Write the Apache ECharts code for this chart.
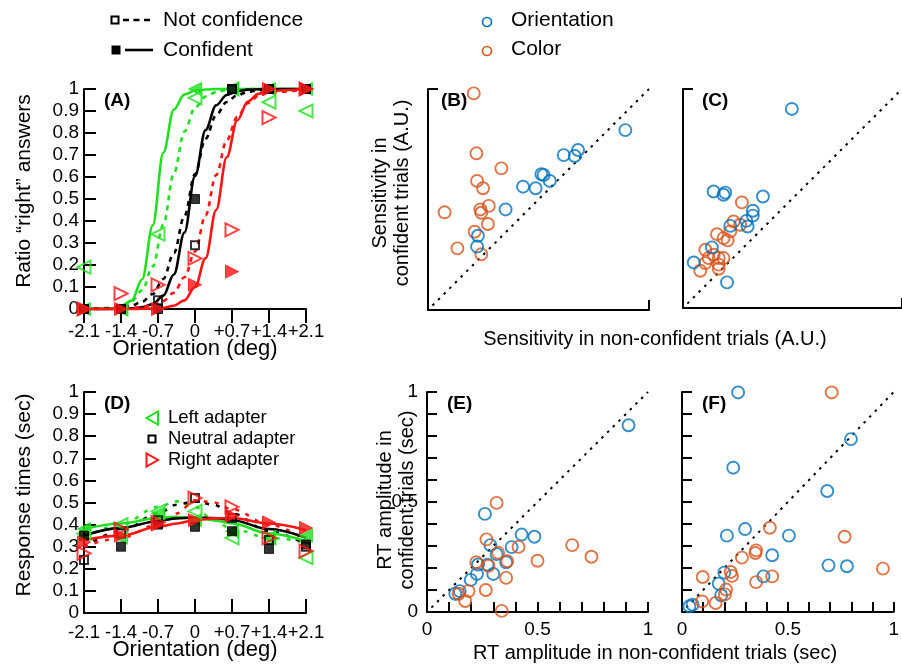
<!DOCTYPE html>
<html><head><meta charset="utf-8">
<script src="https://cdn.jsdelivr.net/npm/echarts@6/dist/echarts.min.js"></script>
<style>html,body{margin:0;padding:0;background:#fff}#c{width:902px;height:666px}</style>
</head><body><div id="c"></div>
<script>
const FONT = '"Liberation Sans", Arial, Helvetica, sans-serif';
const GREEN = '#1fe01f', RED = '#ff1414', BLACK = '#000000', BLUE = '#0072BD', ORANGE = '#D95319';

// ---------- Panel A / D orientation axis ----------
const orientations = [-2.1, -1.4, -0.7, 0, 0.7, 1.4, 2.1];
const orientationLabels = ['-2.1', '-1.4', '-0.7', '0', '+0.7', '+1.4', '+2.1'];

// ---------- Panel A markers (ratio "right") ----------
const aLeftNotConf    = [0.19, 0.0, 0.34, 0.96, 1.0, 0.94, 0.90];
const aLeftConf       = [0, 0, null, 1.0, 1.0, 1.0, 1.0];
const aNeutralNotConf = [0, 0, 0.04, 0.29, 1.0, 1.0, 1.0];
const aNeutralConf    = [0, 0, 0, 0.5, 1.0, 1.0, 1.0];
const aRightNotConf   = [0, 0.07, 0.11, 0.23, 0.36, 0.87, 1.0];
const aRightConf      = [0, 0, 0, 0.11, 0.17, 1.0, 1.0];

// ---------- Panel A fitted curves ----------
const aCurveX              = [-2.1, -1.6, -1.4, -1.2, -1.0, -0.8, -0.6, -0.4, -0.2, 0, 0.2, 0.4, 0.6, 0.8, 1.0, 1.2, 1.4, 2.1];
const aLeftConfCurve       = [0, 0.002, 0.01, 0.038, 0.135, 0.38, 0.71, 0.907, 0.975, 0.993, 0.998, 1, 1, 1, 1, 1, 1, 1];
const aLeftNotConfCurve    = [0, 0.005, 0.014, 0.035, 0.085, 0.193, 0.383, 0.617, 0.807, 0.915, 0.966, 0.986, 0.995, 0.998, 1, 1, 1, 1];
const aNeutralConfCurve    = [0, 0, 0.001, 0.003, 0.008, 0.022, 0.061, 0.157, 0.347, 0.604, 0.813, 0.926, 0.973, 0.99, 0.997, 0.999, 1, 1];
const aNeutralNotConfCurve = [0, 0.003, 0.007, 0.016, 0.033, 0.068, 0.136, 0.254, 0.423, 0.613, 0.774, 0.881, 0.941, 0.972, 0.987, 0.994, 0.997, 1];
const aRightConfCurve      = [0, 0, 0, 0, 0.001, 0.002, 0.005, 0.015, 0.039, 0.1, 0.231, 0.45, 0.69, 0.858, 0.943, 0.978, 0.992, 1];
const aRightNotConfCurve   = [0, 0.001, 0.002, 0.004, 0.009, 0.018, 0.037, 0.074, 0.144, 0.261, 0.426, 0.609, 0.766, 0.873, 0.935, 0.968, 0.984, 0.999];

// ---------- Panel D markers (response times, sec) ----------
const dLeftConf       = [0.38, 0.34, 0.45, 0.42, 0.37, 0.34, 0.35];
const dLeftNotConf    = [0.36, 0.40, 0.46, 0.46, 0.34, 0.34, 0.25];
const dNeutralConf    = [0.35, 0.30, 0.40, 0.39, 0.37, 0.29, 0.31];
const dNeutralNotConf = [0.24, 0.36, 0.42, 0.52, 0.43, 0.33, 0.30];
const dRightConf      = [0.32, 0.35, 0.40, 0.42, 0.44, 0.41, 0.385];
const dRightNotConf   = [0.27, 0.38, 0.41, 0.52, 0.48, 0.34, 0.28];

// ---------- Panel D fitted curves ----------
const dCurveX              = [-2.1, -1.4, -0.7, -0.35, 0, 0.35, 0.7, 1.4, 2.1];
const dLeftConfCurve       = [0.38, 0.405, 0.43, 0.435, 0.43, 0.42, 0.405, 0.36, 0.325];
const dNeutralConfCurve    = [0.35, 0.385, 0.415, 0.428, 0.432, 0.43, 0.42, 0.38, 0.34];
const dRightConfCurve      = [0.33, 0.35, 0.39, 0.405, 0.42, 0.428, 0.43, 0.405, 0.375];
const dLeftNotConfCurve    = [0.34, 0.40, 0.48, 0.505, 0.48, 0.42, 0.38, 0.34, 0.32];
const dNeutralNotConfCurve = [0.30, 0.37, 0.45, 0.49, 0.505, 0.49, 0.45, 0.37, 0.31];
const dRightNotConfCurve   = [0.30, 0.34, 0.40, 0.45, 0.51, 0.50, 0.47, 0.40, 0.33];

// ---------- Panels B/C: sensitivity [non-confident, confident] ----------
const bOrientation = [[0.893,0.814],[0.679,0.724],[0.664,0.697],[0.614,0.701],[0.513,0.615],[0.523,0.611],[0.551,0.584],[0.487,0.551],[0.430,0.558],[0.351,0.455],[0.226,0.336],[0.222,0.287]];
const bColor = [[0.207,0.980],[0.219,0.709],[0.332,0.641],[0.222,0.584],[0.249,0.551],[0.275,0.471],[0.237,0.455],[0.241,0.440],[0.271,0.389],[0.075,0.442],[0.211,0.354],[0.133,0.279],[0.241,0.252]];
const cOrientation = [[0.497,0.909],[0.140,0.532],[0.185,0.517],[0.193,0.527],[0.365,0.509],[0.319,0.444],[0.319,0.422],[0.289,0.398],[0.295,0.372],[0.216,0.375],[0.132,0.277],[0.049,0.208],[0.201,0.117]];
const cColor = [[0.269,0.482],[0.231,0.395],[0.261,0.380],[0.216,0.350],[0.155,0.337],[0.185,0.319],[0.204,0.309],[0.102,0.266],[0.140,0.243],[0.117,0.228],[0.163,0.228],[0.185,0.228],[0.102,0.205],[0.163,0.198],[0.079,0.170],[0.163,0.179]];

// ---------- Panels E/F: RT amplitude [non-confident, confident] ----------
const eOrientation = [[0.912,0.849],[0.262,0.446],[0.428,0.352],[0.486,0.342],[0.383,0.295],[0.287,0.304],[0.315,0.263],[0.358,0.226],[0.231,0.216],[0.274,0.215],[0.300,0.173],[0.226,0.173],[0.198,0.146],[0.128,0.083],[0.148,0.095]];
const eColor = [[0.315,0.496],[0.269,0.330],[0.414,0.296],[0.657,0.304],[0.744,0.251],[0.500,0.233],[0.363,0.231],[0.322,0.269],[0.223,0.226],[0.278,0.210],[0.358,0.155],[0.266,0.100],[0.188,0.095],[0.143,0.083],[0.173,0.050],[0.338,0.005]];
const fOrientation = [[0.265,0.998],[0.798,0.786],[0.242,0.656],[0.686,0.550],[0.298,0.377],[0.212,0.347],[0.505,0.347],[0.426,0.258],[0.692,0.212],[0.779,0.208],[0.200,0.179],[0.385,0.162],[0.173,0.129],[0.185,0.076],[0.035,0.026],[0.050,0.033]];
const fColor = [[0.707,0.998],[0.768,0.342],[0.415,0.383],[0.098,0.159],[0.095,0.048],[0.159,0.041],[0.208,0.102],[0.203,0.080],[0.230,0.182],[0.236,0.164],[0.283,0.247],[0.350,0.280],[0.347,0.268],[0.350,0.136],[0.426,0.162],[0.949,0.197]];

// identity reference line
const diagonal = [[0.02, 0.02], [1, 1]];

// scatter axis labels
const amplitudeLabels = ['0', '0.5', '1'];

// ----------------------------------------------------------------
const chart = echarts.init(document.getElementById('c'), null, { renderer: 'canvas' });

const axisLineStyle = { show: true, onZero: false, lineStyle: { color: BLACK, width: 2 } };
const tickStyle = { color: BLACK, width: 2 };

function orientFormatter(v) {
  let best = 0;
  for (let i = 0; i < orientations.length; i++) {
    if (Math.abs(orientations[i] - v) < Math.abs(orientations[best] - v)) best = i;
  }
  return orientationLabels[best];
}
function ampFormatter(v) {
  for (const s of amplitudeLabels) { if (Math.abs(parseFloat(s) - v) < 1e-6) return s; }
  return '';
}

function orientX(grid, inside) {
  return {
    type: 'value', gridIndex: grid, min: -2.1, max: 2.1, interval: 0.7,
    axisLine: axisLineStyle, splitLine: { show: false },
    axisTick: { show: true, inside: inside, length: 14, lineStyle: tickStyle, customValues: orientations },
    axisLabel: { formatter: orientFormatter, fontFamily: FONT, fontSize: 18.5, color: BLACK, margin: inside ? 10 : 13,
      showMinLabel: true, showMaxLabel: true, hideOverlap: false, customValues: orientations }
  };
}
function ratioY(grid) {
  return {
    type: 'value', gridIndex: grid, min: 0, max: 1, interval: 0.1,
    axisLine: axisLineStyle, splitLine: { show: false },
    axisTick: { show: true, inside: true, length: 12, lineStyle: tickStyle },
    axisLabel: { fontFamily: FONT, fontSize: 19, color: BLACK, margin: 5, showMinLabel: true, showMaxLabel: true }
  };
}
function frameAxis(grid) {
  return {
    type: 'value', gridIndex: grid, min: 0, max: 1, interval: 1,
    axisLine: axisLineStyle, splitLine: { show: false },
    axisTick: { show: true, inside: true, length: 10, lineStyle: tickStyle },
    axisLabel: { show: false }
  };
}
function ampAxis(grid, showLabels, margin) {
  return {
    type: 'value', gridIndex: grid, min: 0, max: 1, interval: 0.1,
    axisLine: axisLineStyle, splitLine: { show: false },
    axisTick: { show: true, inside: true, length: 10, lineStyle: tickStyle },
    axisLabel: { show: showLabels, formatter: ampFormatter, fontFamily: FONT, fontSize: 19, color: BLACK, margin: margin, showMinLabel: true, showMaxLabel: true }
  };
}

function pairs(xs, ys) {
  const out = [];
  xs.forEach((x, i) => { if (ys[i] !== null && ys[i] !== undefined) out.push([x, ys[i]]); });
  return out;
}
function curve(idx, xs, ys, color, dashed, dash) {
  return {
    type: 'line', xAxisIndex: idx, yAxisIndex: idx, data: pairs(xs, ys),
    smooth: 0.35, smoothMonotone: 'x', symbol: 'none', silent: true, clip: false,
    lineStyle: { color: color, width: 2.6, type: dashed ? dash : 'solid' }, z: 2
  };
}
function marks(idx, ys, kind, color, filled) {
  const s = {
    type: 'scatter', xAxisIndex: idx, yAxisIndex: idx, data: pairs(orientations, ys), clip: false, silent: true, z: 3
  };
  if (kind === 'square') {
    s.symbol = 'rect'; s.symbolSize = filled ? 9 : 8;
  } else {
    s.symbol = 'triangle'; s.symbolSize = 13; s.symbolRotate = kind === 'left' ? 90 : -90;
  }
  s.itemStyle = filled ? { color: color, borderColor: color, borderWidth: 1 } : { color: 'rgba(0,0,0,0)', borderColor: color, borderWidth: 2 };
  return s;
}
function circles(idx, data, color) {
  return {
    type: 'scatter', xAxisIndex: idx, yAxisIndex: idx, data: data, clip: false, silent: true,
    symbol: 'circle', symbolSize: 12,
    itemStyle: { color: 'rgba(0,0,0,0)', borderColor: color, borderWidth: 1.9 }, z: 3
  };
}
function diag(idx) {
  return {
    type: 'line', xAxisIndex: idx, yAxisIndex: idx, data: diagonal, symbol: 'none', silent: true,
    lineStyle: { color: BLACK, width: 2, type: [2.5, 5.5] }, z: 1
  };
}

const DASH_A = [5, 5];
const DASH_D = [4, 7];

const series = [
  // Panel A (index 0)
  curve(0, aCurveX, aLeftNotConfCurve, GREEN, true, DASH_A),
  curve(0, aCurveX, aLeftConfCurve, GREEN, false),
  curve(0, aCurveX, aNeutralNotConfCurve, BLACK, true, DASH_A),
  curve(0, aCurveX, aNeutralConfCurve, BLACK, false),
  curve(0, aCurveX, aRightNotConfCurve, RED, true, DASH_A),
  curve(0, aCurveX, aRightConfCurve, RED, false),
  marks(0, aLeftNotConf, 'left', GREEN, false),
  marks(0, aLeftConf, 'left', GREEN, true),
  marks(0, aNeutralNotConf, 'square', BLACK, false),
  marks(0, aNeutralConf, 'square', BLACK, true),
  marks(0, aRightNotConf, 'right', RED, false),
  marks(0, aRightConf, 'right', RED, true),
  // Panel B (1)
  diag(1), circles(1, bColor, ORANGE), circles(1, bOrientation, BLUE),
  // Panel C (2)
  diag(2), circles(2, cColor, ORANGE), circles(2, cOrientation, BLUE),
  // Panel D (3)
  curve(3, dCurveX, dLeftNotConfCurve, GREEN, true, DASH_D),
  curve(3, dCurveX, dNeutralNotConfCurve, BLACK, true, DASH_D),
  curve(3, dCurveX, dRightNotConfCurve, RED, true, DASH_D),
  curve(3, dCurveX, dLeftConfCurve, GREEN, false),
  curve(3, dCurveX, dNeutralConfCurve, BLACK, false),
  curve(3, dCurveX, dRightConfCurve, RED, false),
  marks(3, dLeftNotConf, 'left', GREEN, false),
  marks(3, dLeftConf, 'left', GREEN, true),
  marks(3, dNeutralNotConf, 'square', BLACK, false),
  marks(3, dNeutralConf, 'square', BLACK, true),
  marks(3, dRightNotConf, 'right', RED, false),
  marks(3, dRightConf, 'right', RED, true),
  // Panel E (4)
  diag(4), circles(4, eOrientation, BLUE), circles(4, eColor, ORANGE),
  // Panel F (5)
  diag(5), circles(5, fOrientation, BLUE), circles(5, fColor, ORANGE)
];

function txt(text, x, y, size, opts) {
  return Object.assign({
    type: 'text', x: x, y: y, silent: true, z: 10,
    style: Object.assign({ text: text, fontFamily: FONT, fontSize: size, fill: BLACK, align: 'center', verticalAlign: 'middle' }, (opts && opts.style) || {})
  }, (opts && opts.el) || {});
}
const VERT = { el: { rotation: Math.PI / 2 } };

const graphic = [
  // top-left legend
  { type: 'rect', shape: { x: 111.5, y: 16.5, width: 7, height: 7 }, style: { fill: 'none', stroke: BLACK, lineWidth: 2 } },
  { type: 'line', shape: { x1: 123, y1: 20, x2: 154, y2: 20 }, style: { stroke: BLACK, lineWidth: 2.6, lineDash: [6, 4.5] } },
  txt('Not confidence', 163, 20, 21, { style: { align: 'left' } }),
  { type: 'rect', shape: { x: 111.5, y: 45.5, width: 9, height: 9 }, style: { fill: BLACK } },
  { type: 'line', shape: { x1: 125, y1: 50, x2: 153, y2: 50 }, style: { stroke: BLACK, lineWidth: 2.6 } },
  txt('Confident', 163, 50, 21, { style: { align: 'left' } }),
  // top-right legend
  { type: 'circle', shape: { cx: 487, cy: 22, r: 4.5 }, style: { fill: 'none', stroke: BLUE, lineWidth: 1.7 } },
  txt('Orientation', 511, 20, 21, { style: { align: 'left' } }),
  { type: 'circle', shape: { cx: 487, cy: 51, r: 4.5 }, style: { fill: 'none', stroke: ORANGE, lineWidth: 1.7 } },
  txt('Color', 511, 49, 21, { style: { align: 'left' } }),
  // panel D legend
  { type: 'polygon', shape: { points: [[158, 411.5], [158, 424.5], [146.5, 418]] }, style: { fill: 'none', stroke: GREEN, lineWidth: 2 } },
  txt('Left adapter', 168, 418, 18.5, { style: { align: 'left' } }),
  { type: 'rect', shape: { x: 148.5, y: 435.5, width: 7, height: 7 }, style: { fill: 'none', stroke: BLACK, lineWidth: 2 } },
  txt('Neutral adapter', 168, 439, 18.5, { style: { align: 'left' } }),
  { type: 'polygon', shape: { points: [[146.5, 453.5], [146.5, 466.5], [158, 460]] }, style: { fill: 'none', stroke: RED, lineWidth: 2 } },
  txt('Right adapter', 168, 460, 18.5, { style: { align: 'left' } }),
  // panel letters
  txt('(A)', 104, 101, 19, { style: { align: 'left', fontWeight: 'bold' } }),
  txt('(B)', 441, 101, 19, { style: { align: 'left', fontWeight: 'bold' } }),
  txt('(C)', 702, 101, 19, { style: { align: 'left', fontWeight: 'bold' } }),
  txt('(D)', 104, 404, 19, { style: { align: 'left', fontWeight: 'bold' } }),
  txt('(E)', 447, 404, 19, { style: { align: 'left', fontWeight: 'bold' } }),
  txt('(F)', 702, 404, 19, { style: { align: 'left', fontWeight: 'bold' } }),
  // axis titles
  txt('Orientation (deg)', 195, 349, 22),
  txt('Orientation (deg)', 195, 650, 22),
  txt('Ratio \u201cright\u201d answers', 24, 191, 21, VERT),
  txt('Response times (sec)', 24, 495, 21, VERT),
  txt('Sensitivity in\nconfident trials (A.U.)', 391, 193, 20, { el: { rotation: Math.PI / 2 }, style: { lineHeight: 22 } }),
  txt('Sensitivity in non-confident trials (A.U.)', 655, 339, 20),
  txt('RT amplitude in\nconfident trials (sec)', 396, 500, 20, { el: { rotation: Math.PI / 2 }, style: { lineHeight: 22 } }),
  txt('RT amplitude in non-confident trials (sec)', 655, 653, 20)
];

const option = {
  animation: false,
  backgroundColor: '#ffffff',
  textStyle: { fontFamily: FONT },
  grid: [
    { left: 84, top: 89, width: 222, height: 220 },   // A
    { left: 428, top: 89, width: 221, height: 221 },  // B
    { left: 683, top: 89, width: 220, height: 219 },  // C
    { left: 84, top: 392, width: 222, height: 221 },  // D
    { left: 427, top: 392, width: 221, height: 220 }, // E
    { left: 682, top: 392, width: 222, height: 220 }  // F
  ],
  xAxis: [orientX(0, false), frameAxis(1), frameAxis(2), orientX(3, true), ampAxis(4, true, 8), ampAxis(5, true, 8)],
  yAxis: [ratioY(0), frameAxis(1), frameAxis(2), ratioY(3), ampAxis(4, true, 9), ampAxis(5, false, 9)],
  series: series,
  graphic: graphic
};
chart.setOption(option);
</script>
</body></html>
